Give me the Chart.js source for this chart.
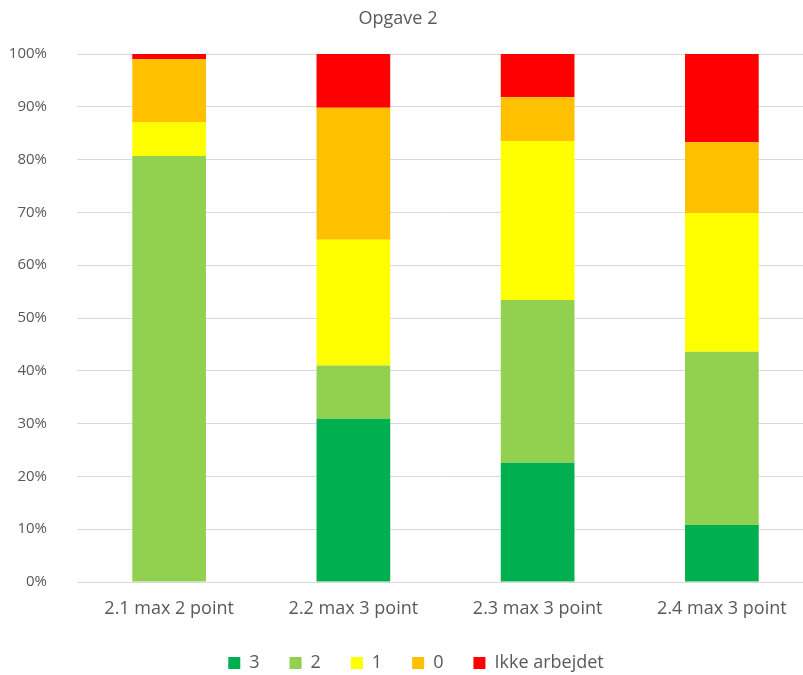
<!DOCTYPE html>
<html>
<head>
<meta charset="utf-8">
<script src="https://cdn.jsdelivr.net/npm/chart.js@4"></script>
<style>
  html, body { margin: 0; padding: 0; background: #fff; overflow: hidden; }
  #wrap { width: 814px; height: 682px; }
</style>
</head>
<body>
<div id="wrap"><canvas id="opgave"></canvas></div>
<script>
// opgaver og andel af elever pr. pointtal (procent)
const opgaver = ["2.1 max 2 point", "2.2 max 3 point", "2.3 max 3 point", "2.4 max 3 point"];
const point3 = [0, 30.9, 22.6, 10.8];
const point2 = [80.7, 10.1, 30.8, 32.8];
const point1 = [6.4, 23.8, 30.1, 26.3];
const point0 = [11.9, 25.0, 8.3, 13.4];
const ikkeArbejdet = [1.0, 10.2, 8.2, 16.7];
const yTicks = [0, 10, 20, 30, 40, 50, 60, 70, 80, 90, 100];

const tekstFarve = "#595959";
const skrift = "'Open Sans', 'Noto Sans', sans-serif";

// titlen tegnes selv, så den kan placeres over hele figuren
const titelPlugin = {
  id: "titel",
  afterLayout(chart) {
    // forklaringen flyttes lidt til højre
    chart.legend.left += 9;
    chart.legend.right += 9;
  },
  afterDraw(chart) {
    const ctx = chart.ctx;
    ctx.save();
    ctx.fillStyle = tekstFarve;
    ctx.font = "18px " + skrift;
    ctx.textAlign = "center";
    ctx.textBaseline = "middle";
    ctx.fillText("Opgave 2", 398, 19);
    ctx.restore();
  }
};

function serie(label, data, farve) {
  return {
    label: label,
    data: data,
    backgroundColor: farve,
    borderWidth: 0,
    barPercentage: 0.4,
    categoryPercentage: 1.0
  };
}

new Chart(document.getElementById("opgave"), {
  type: "bar",
  data: {
    labels: opgaver,
    datasets: [
      serie("3", point3, "#00B050"),
      serie("2", point2, "#92D050"),
      serie("1", point1, "#FFFF00"),
      serie("0", point0, "#FFC000"),
      serie("Ikke arbejdet", ikkeArbejdet, "#FF0000")
    ]
  },
  options: {
    responsive: true,
    maintainAspectRatio: false,
    animation: false,
    layout: { padding: { top: 54, left: 0, right: 0, bottom: 0 } },
    plugins: {
      legend: {
        position: "bottom",
        labels: {
          color: tekstFarve,
          font: { family: skrift, size: 18 },
          boxWidth: 12,
          boxHeight: 12,
          padding: 30
        }
      },
      tooltip: { enabled: false }
    },
    scales: {
      x: {
        stacked: true,
        grid: { display: false, drawTicks: false },
        border: { display: true, color: "#D9D9D9" },
        ticks: { color: tekstFarve, font: { family: skrift, size: 18 }, padding: 16 },
        afterFit(axis) {
          axis.height = 42;
        }
      },
      y: {
        stacked: true,
        min: 0,
        max: 100,
        afterBuildTicks(axis) {
          axis.ticks = yTicks.map(v => ({ value: v }));
        },
        afterFit(axis) {
          axis.width = 77;
        },
        grid: { color: "#D9D9D9", drawTicks: false },
        border: { display: false },
        ticks: {
          color: tekstFarve,
          font: { family: skrift, size: 15 },
          padding: 30,
          callback: v => v + "%"
        }
      }
    }
  },
  plugins: [titelPlugin]
});
</script>
</body>
</html>
